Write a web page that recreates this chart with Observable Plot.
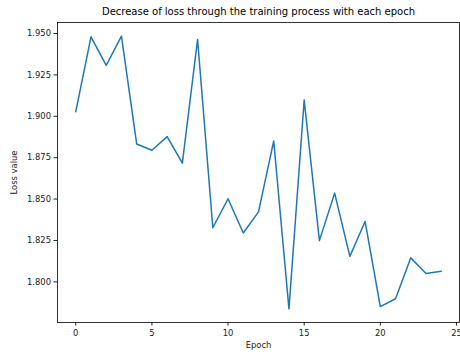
<!DOCTYPE html>
<html>
<head>
<meta charset="utf-8">
<script src="https://cdn.jsdelivr.net/npm/d3@7"></script>
<script src="https://cdn.jsdelivr.net/npm/@observablehq/plot@0.6"></script>
<style>
  html, body { margin: 0; padding: 0; background: #fff; }
  #chart { width: 460px; height: 356px; overflow: hidden; }
</style>
</head>
<body>
<div id="chart"></div>
<script>
const epochs = [0,1,2,3,4,5,6,7,8,9,10,11,12,13,14,15,16,17,18,19,20,21,22,23,24];
const loss = [1.9028,1.9480,1.9307,1.9484,1.8833,1.8795,1.8877,1.8717,1.9464,1.8327,1.8502,1.8295,1.8423,1.8851,1.7837,1.9098,1.8249,1.8536,1.8154,1.8365,1.7851,1.7898,1.8145,1.8050,1.8064];
const xTicks = [0,5,10,15,20,25];
const yTicks = [1.800,1.825,1.850,1.875,1.900,1.925,1.950];
const title = "Decrease of loss through the training process with each epoch";
const xLabel = "Epoch";
const yLabel = "Loss value";

const data = epochs.map((e, i) => ({epoch: e, loss: loss[i]}));
const lo = d3.min(loss), hi = d3.max(loss);
const ypad = (hi - lo) * 0.05;
const xlo = d3.min(epochs), xhi = d3.max(epochs);
const xpad = (xhi - xlo) * 0.05;

const chart = Plot.plot({
  width: 460,
  height: 356,
  marginLeft: 57,
  marginRight: 1,
  marginTop: 22,
  marginBottom: 34,
  style: {fontFamily: "DejaVu Sans", fontSize: "8.4px", color: "#222", background: "#fff", overflow: "visible"},
  x: {domain: [xlo - xpad, xhi + xpad]},
  y: {domain: [lo - ypad, hi + ypad]},
  marks: [
    Plot.axisX({ticks: xTicks, tickSize: 3.5, tickPadding: 4, fontSize: 8.4, label: xLabel, labelAnchor: "center", labelArrow: "none", labelOffset: 25, tickFormat: d3.format("d")}),
    Plot.axisY({ticks: yTicks, tickSize: 3.5, tickPadding: 3, fontSize: 8.4, label: yLabel, labelAnchor: "center", labelArrow: "none", labelOffset: 46, tickFormat: d3.format(".3f")}),
    Plot.line(data, {x: "epoch", y: "loss", stroke: "#1f77b4", strokeWidth: 1.5}),
    Plot.frame({stroke: "#000", strokeWidth: 0.8}),
    Plot.text([title], {frameAnchor: "top", dy: -11, fontSize: 10, fill: "#000", lineAnchor: "middle"})
  ]
});
document.getElementById("chart").appendChild(chart);
</script>
</body>
</html>
